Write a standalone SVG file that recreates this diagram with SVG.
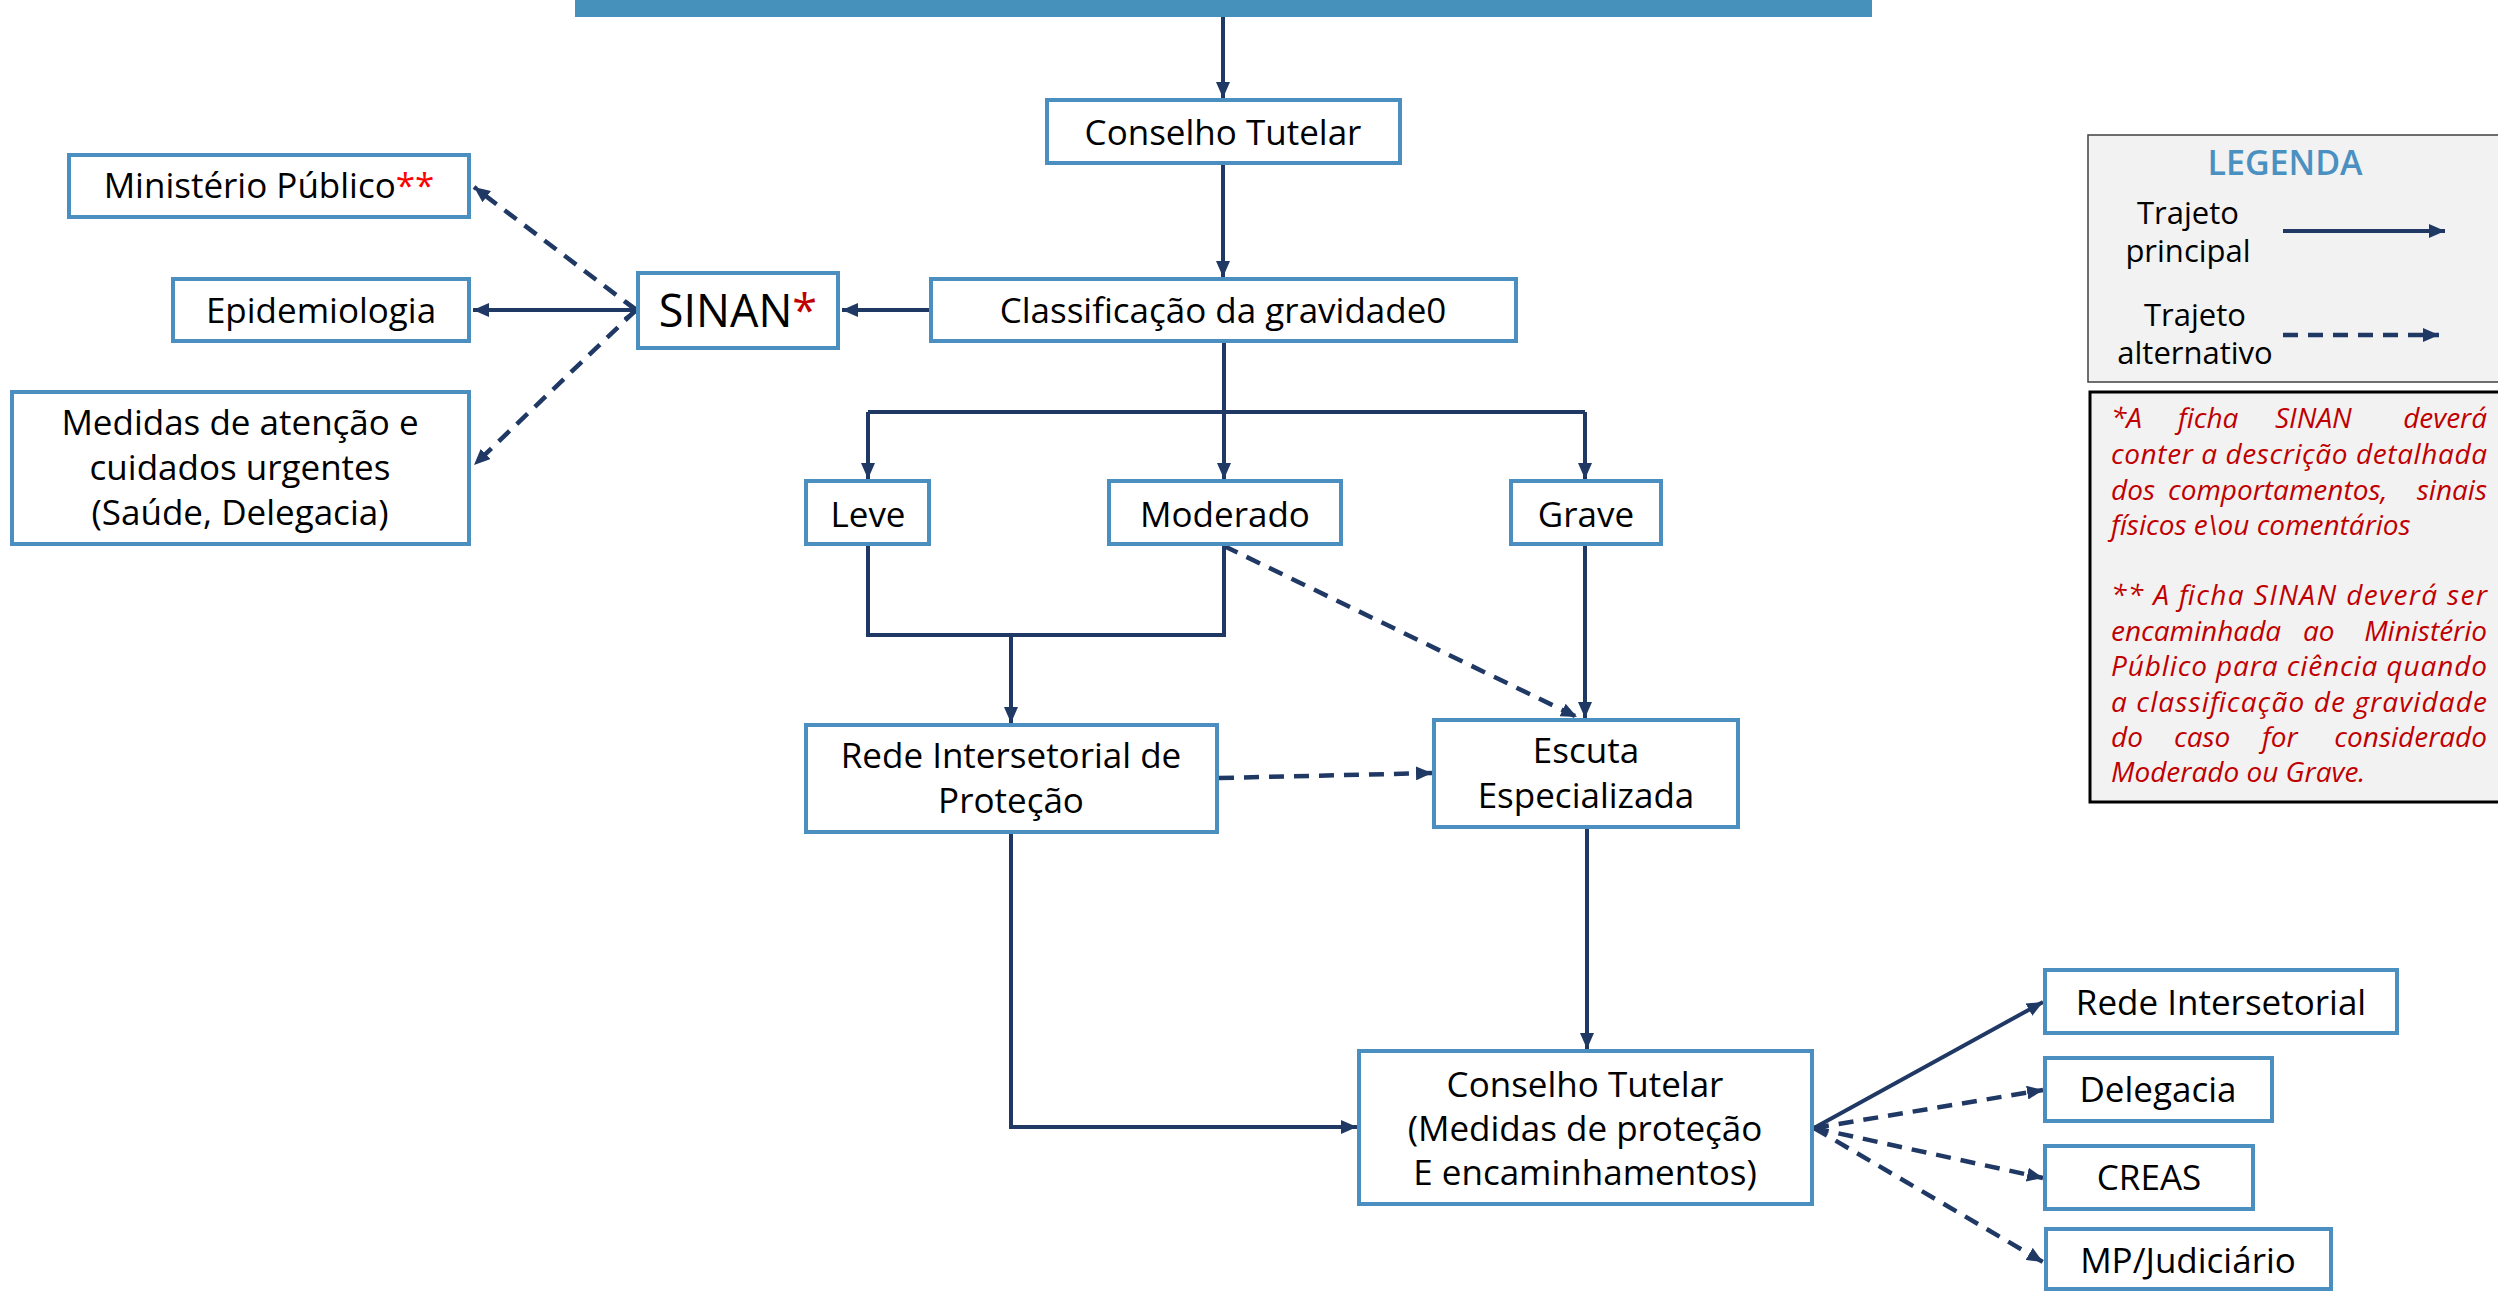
<svg xmlns="http://www.w3.org/2000/svg" width="2498" height="1292" viewBox="0 0 2498 1292">
<defs>
<style>
.box{fill:#ffffff;stroke:#4A8FBF;stroke-width:4}
.t{font-family:"Open Sans","Noto Sans","DejaVu Sans",sans-serif;font-size:35px;fill:#000;text-anchor:middle}
.c{fill:none;stroke:#1F3864;stroke-width:4}
.d{fill:none;stroke:#1F3864;stroke-width:4.5;stroke-dasharray:15 10}
.note{font-family:"Open Sans","Noto Sans","DejaVu Sans",sans-serif;font-size:28px;font-style:italic;fill:#C00000}
.leg{font-family:"Open Sans","Noto Sans","DejaVu Sans",sans-serif;font-size:31px;fill:#000;text-anchor:middle}
</style>
<marker id="ah" viewBox="0 0 16 14" refX="16" refY="7" markerWidth="16" markerHeight="14" markerUnits="userSpaceOnUse" orient="auto">
<path d="M0,0 L16,7 L0,14 z" fill="#1F3864"/>
</marker>
</defs>

<rect id="banner" x="575" y="-4" width="1297" height="21" fill="#4690BC"/>

<g id="connectors">
<path class="c" d="M1223,17 V98" marker-end="url(#ah)"/>
<path class="c" d="M1223,165 V277" marker-end="url(#ah)"/>
<path class="c" d="M929,310 H842" marker-end="url(#ah)"/>
<path class="c" d="M636,310 H473" marker-end="url(#ah)"/>
<path class="c" d="M625,301 L637,310 L625,319"/>
<path class="d" d="M636,310 L474,187" marker-end="url(#ah)"/>
<path class="d" d="M636,310 L474,465" marker-end="url(#ah)"/>
<path class="c" d="M1224,343 V479" marker-end="url(#ah)"/>
<path class="c" d="M868,412 H1585"/>
<path class="c" d="M868,412 V479" marker-end="url(#ah)"/>
<path class="c" d="M1585,412 V479" marker-end="url(#ah)"/>
<path class="c" d="M868,546 V635 H1224 V546"/>
<path class="c" d="M1011,635 V723" marker-end="url(#ah)"/>
<path class="c" d="M1585,546 V718" marker-end="url(#ah)"/>
<path class="d" d="M1224,546 L1577,717" marker-end="url(#ah)"/>
<path class="d" d="M1219,778 L1432,773" marker-end="url(#ah)"/>
<path class="c" d="M1011,834 V1127 H1357" marker-end="url(#ah)"/>
<path class="c" d="M1587,829 V1049" marker-end="url(#ah)"/>
<path class="c" d="M1814,1128 L2043,1002" marker-end="url(#ah)"/>
<path class="d" d="M1814,1128 L2043,1090" marker-end="url(#ah)"/>
<path class="d" d="M1814,1128 L2043,1178" marker-end="url(#ah)"/>
<path class="d" d="M1814,1128 L2043,1262" marker-end="url(#ah)"/>
</g>

<g id="ct1"><rect class="box" x="1047" y="100" width="353" height="63"/><text class="t" x="1223" y="145">Conselho Tutelar</text></g>
<g id="cls"><rect class="box" x="931" y="279" width="585" height="62"/><text class="t" x="1223" y="323">Classificação da gravidade0</text></g>
<g id="sinan"><rect class="box" x="638" y="273" width="200" height="75"/><text class="t" x="738" y="327" style="font-size:45px">SINAN<tspan fill="#C00000">*</tspan></text></g>
<g id="mp"><rect class="box" x="69" y="155" width="400" height="62"/><text class="t" x="269" y="198">Ministério Público<tspan fill="#FF0000">**</tspan></text></g>
<g id="epi"><rect class="box" x="173" y="279" width="296" height="62"/><text class="t" x="321" y="323">Epidemiologia</text></g>
<g id="med"><rect class="box" x="12" y="392" width="457" height="152"/><text class="t" x="240" y="435">Medidas de atenção e</text><text class="t" x="240" y="480">cuidados urgentes</text><text class="t" x="240" y="525">(Saúde, Delegacia)</text></g>
<g id="leve"><rect class="box" x="806" y="481" width="123" height="63"/><text class="t" x="868" y="527">Leve</text></g>
<g id="mod"><rect class="box" x="1109" y="481" width="232" height="63"/><text class="t" x="1225" y="527">Moderado</text></g>
<g id="grave"><rect class="box" x="1511" y="481" width="150" height="63"/><text class="t" x="1586" y="527">Grave</text></g>
<g id="rede"><rect class="box" x="806" y="725" width="411" height="107"/><text class="t" x="1011" y="768">Rede Intersetorial de</text><text class="t" x="1011" y="813">Proteção</text></g>
<g id="escuta"><rect class="box" x="1434" y="720" width="304" height="107"/><text class="t" x="1586" y="763">Escuta</text><text class="t" x="1586" y="808">Especializada</text></g>
<g id="ct2"><rect class="box" x="1359" y="1051" width="453" height="153"/><text class="t" x="1585" y="1097">Conselho Tutelar</text><text class="t" x="1585" y="1141">(Medidas de proteção</text><text class="t" x="1585" y="1185">E encaminhamentos)</text></g>
<g id="ri"><rect class="box" x="2045" y="970" width="352" height="63"/><text class="t" x="2221" y="1015">Rede Intersetorial</text></g>
<g id="del"><rect class="box" x="2045" y="1058" width="227" height="63"/><text class="t" x="2158" y="1102">Delegacia</text></g>
<g id="creas"><rect class="box" x="2045" y="1146" width="208" height="63"/><text class="t" x="2149" y="1190">CREAS</text></g>
<g id="mpj"><rect class="box" x="2046" y="1229" width="285" height="60"/><text class="t" x="2188" y="1273">MP/Judiciário</text></g>

<g id="legenda">
<rect x="2088" y="135" width="420" height="247" fill="#F2F2F2" stroke="#404040" stroke-width="1.5"/>
<text x="2285" y="175" style="font-family:'Open Sans','Noto Sans',sans-serif;font-size:34px;font-weight:600;fill:#4A90C0;text-anchor:middle">LEGENDA</text>
<text class="leg" x="2188" y="224">Trajeto</text>
<text class="leg" x="2188" y="262">principal</text>
<text class="leg" x="2195" y="326">Trajeto</text>
<text class="leg" x="2195" y="364">alternativo</text>
<path class="c" d="M2283,231 H2445" marker-end="url(#ah)"/>
<path class="d" d="M2283,335 H2439" marker-end="url(#ah)"/>
</g>

<g id="notas">
<rect x="2090" y="392" width="420" height="410" fill="#F2F2F2" stroke="#000" stroke-width="3"/>
<text class="note" y="428"><tspan x="2111">*A</tspan><tspan x="2178">ficha</tspan><tspan x="2275">SINAN</tspan><tspan x="2487" text-anchor="end">deverá</tspan></text>
<text class="note" x="2111" y="464" textLength="376" lengthAdjust="spacing">conter a descrição detalhada</text>
<text class="note" y="500"><tspan x="2111">dos</tspan><tspan x="2168">comportamentos,</tspan><tspan x="2487" text-anchor="end">sinais</tspan></text>
<text class="note" x="2111" y="535">físicos e\ou comentários</text>
<text class="note" x="2111" y="605" textLength="376" lengthAdjust="spacing">** A ficha SINAN deverá ser</text>
<text class="note" y="641"><tspan x="2111">encaminhada</tspan><tspan x="2303">ao</tspan><tspan x="2487" text-anchor="end">Ministério</tspan></text>
<text class="note" x="2111" y="676" textLength="376" lengthAdjust="spacing">Público para ciência quando</text>
<text class="note" x="2111" y="712" textLength="376" lengthAdjust="spacing">a classificação de gravidade</text>
<text class="note" y="747"><tspan x="2111">do</tspan><tspan x="2174">caso</tspan><tspan x="2262">for</tspan><tspan x="2487" text-anchor="end">considerado</tspan></text>
<text class="note" x="2111" y="782">Moderado ou Grave.</text>
</g>
</svg>
